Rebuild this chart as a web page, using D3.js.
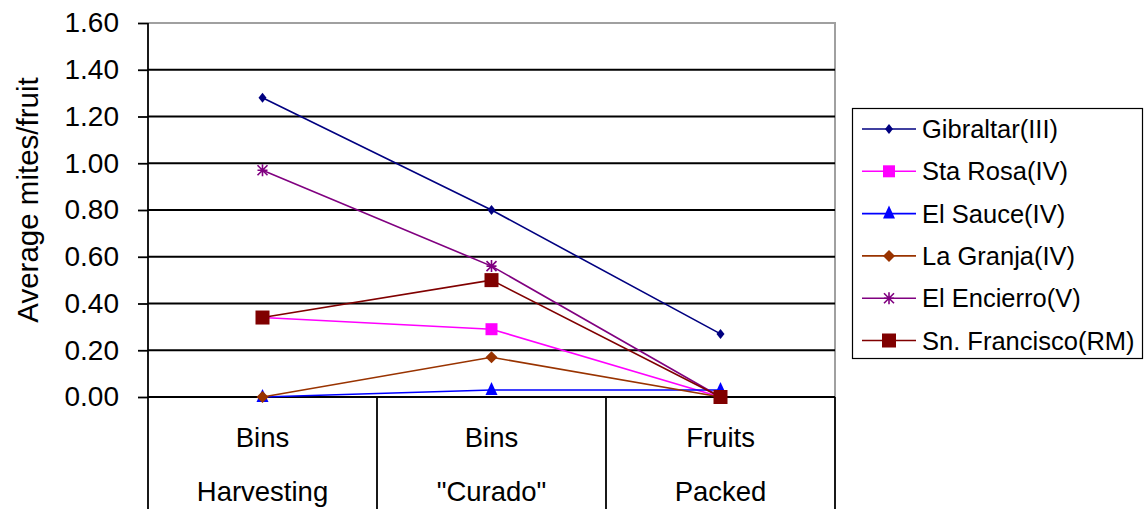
<!DOCTYPE html>
<html><head><meta charset="utf-8">
<script src="https://cdn.jsdelivr.net/npm/d3@7"></script>
<style>body{margin:0;background:#fff}svg{display:block;font-family:"Liberation Sans",Arial,sans-serif}</style>
</head><body><svg id="c" width="1147" height="513"></svg>
<script>
const categories = [["Bins","Harvesting"],["Bins","\"Curado\""],["Fruits","Packed"]];
const seriesNames = ["Gibraltar(III)","Sta Rosa(IV)","El Sauce(IV)","La Granja(IV)","El Encierro(V)","Sn. Francisco(RM)"];
const gibraltar = [1.28, 0.80, 0.27];
const staRosa = [0.34, 0.29, 0.00];
const elSauce = [0.00, 0.03, 0.03];
const laGranja = [0.00, 0.17, 0.00];
const elEncierro = [0.97, 0.56, 0.00];
const snFrancisco = [0.34, 0.50, 0.00];
const yTicks = [0, 0.2, 0.4, 0.6, 0.8, 1.0, 1.2, 1.4, 1.6];
const colors = ["#000080","#FF00FF","#0000FF","#993300","#800080","#800000"];
const markers = ["diamondSmall","square","triangle","diamond","star","squareBig"];
const seriesValues = [gibraltar, staRosa, elSauce, laGranja, elEncierro, snFrancisco];

const svg = d3.select("#c");
const L = 148, R = 835, T = 23, B = 397, BOT = 509;
const x = d3.scaleBand().domain(d3.range(categories.length)).range([L, R]).padding(0);
const y = d3.scaleLinear().domain([0, 1.6]).range([B, T]);
const cx = i => x(i) + x.bandwidth() / 2;

// plot border (gray top/right)
svg.append("path").attr("d", `M${L},${T}H${R}V${B}`).attr("fill","none").attr("stroke","#a0a0a0").attr("stroke-width",2);
// gridlines
svg.append("g").selectAll("line").data(yTicks.filter(t => t > 0 && t < 1.6)).join("line")
  .attr("x1", L).attr("x2", R).attr("y1", d => y(d)).attr("y2", d => y(d))
  .attr("stroke", "#000").attr("stroke-width", 1.8);
// y axis
const ya = svg.append("g").attr("transform", `translate(${L},0)`)
  .call(d3.axisLeft(y).tickValues(yTicks).tickFormat(d3.format(".2f")).tickSize(10).tickPadding(19));
ya.select(".domain").remove();
ya.selectAll(".tick line").attr("stroke", "#000").attr("stroke-width", 1.8);
ya.selectAll(".tick text").attr("font-size", 28).attr("fill", "#000").attr("font-family", "Liberation Sans, Arial, sans-serif");
svg.append("line").attr("x1", L).attr("x2", L).attr("y1", T).attr("y2", BOT).attr("stroke", "#000").attr("stroke-width", 1.8);
// x axis
svg.append("line").attr("x1", L).attr("x2", R).attr("y1", B).attr("y2", B).attr("stroke", "#000").attr("stroke-width", 1.8);
svg.append("g").selectAll("line").data(d3.range(1, categories.length + 1)).join("line")
  .attr("x1", d => x(d - 1) + x.bandwidth()).attr("x2", d => x(d - 1) + x.bandwidth())
  .attr("y1", B).attr("y2", BOT).attr("stroke", "#000").attr("stroke-width", 1.8);
const xl = svg.append("g").selectAll("g").data(categories).join("g");
xl.append("text").attr("x", (d, i) => cx(i)).attr("y", 447).attr("text-anchor", "middle").attr("font-size", 27.5).text(d => d[0]);
xl.append("text").attr("x", (d, i) => cx(i)).attr("y", 501).attr("text-anchor", "middle").attr("font-size", 27.5).text(d => d[1]);
// y title
svg.append("text").attr("transform", `translate(38,200) rotate(-90)`).attr("text-anchor", "middle")
  .attr("font-size", 29.5).text("Average mites/fruit");

function drawMarker(g, type, color) {
  if (type === "diamondSmall") g.append("path").attr("d", "M0,-5L4,0L0,5L-4,0Z").attr("fill", color);
  else if (type === "diamond") g.append("path").attr("d", "M0,-6L6,0L0,6L-6,0Z").attr("fill", color);
  else if (type === "square") g.append("rect").attr("x", -6).attr("y", -6).attr("width", 12).attr("height", 12).attr("fill", color);
  else if (type === "squareBig") g.append("rect").attr("x", -7).attr("y", -7).attr("width", 14).attr("height", 14).attr("fill", color);
  else if (type === "triangle") g.append("path").attr("d", "M0,-8L6,5L-6,5Z").attr("fill", color);
  else if (type === "star") g.append("path").attr("d", "M-5,-5L5,5M5,-5L-5,5M0,-6V6M-5,0H5").attr("stroke", color).attr("stroke-width", 1.6);
}

const line = d3.line().x((d, i) => cx(i)).y(d => y(d));
seriesValues.forEach((vals, s) => {
  svg.append("path").datum(vals).attr("d", line).attr("fill", "none").attr("stroke", colors[s]).attr("stroke-width", 1.6);
});
seriesValues.forEach((vals, s) => {
  vals.forEach((v, i) => {
    const g = svg.append("g").attr("transform", `translate(${cx(i)},${y(v)})`);
    drawMarker(g, markers[s], colors[s]);
  });
});

// legend
svg.append("rect").attr("x", 852.5).attr("y", 108.5).attr("width", 290).attr("height", 250).attr("fill", "#fff").attr("stroke", "#000").attr("stroke-width", 1.2);
seriesNames.forEach((n, s) => {
  const ly = 129 + s * 42.3;
  svg.append("line").attr("x1", 862).attr("x2", 916).attr("y1", ly).attr("y2", ly).attr("stroke", colors[s]).attr("stroke-width", 1.6);
  drawMarker(svg.append("g").attr("transform", `translate(889,${ly})`), markers[s], colors[s]);
  svg.append("text").attr("x", 922).attr("y", ly + 9).attr("font-size", 25.5).text(n);
});
</script></body></html>
